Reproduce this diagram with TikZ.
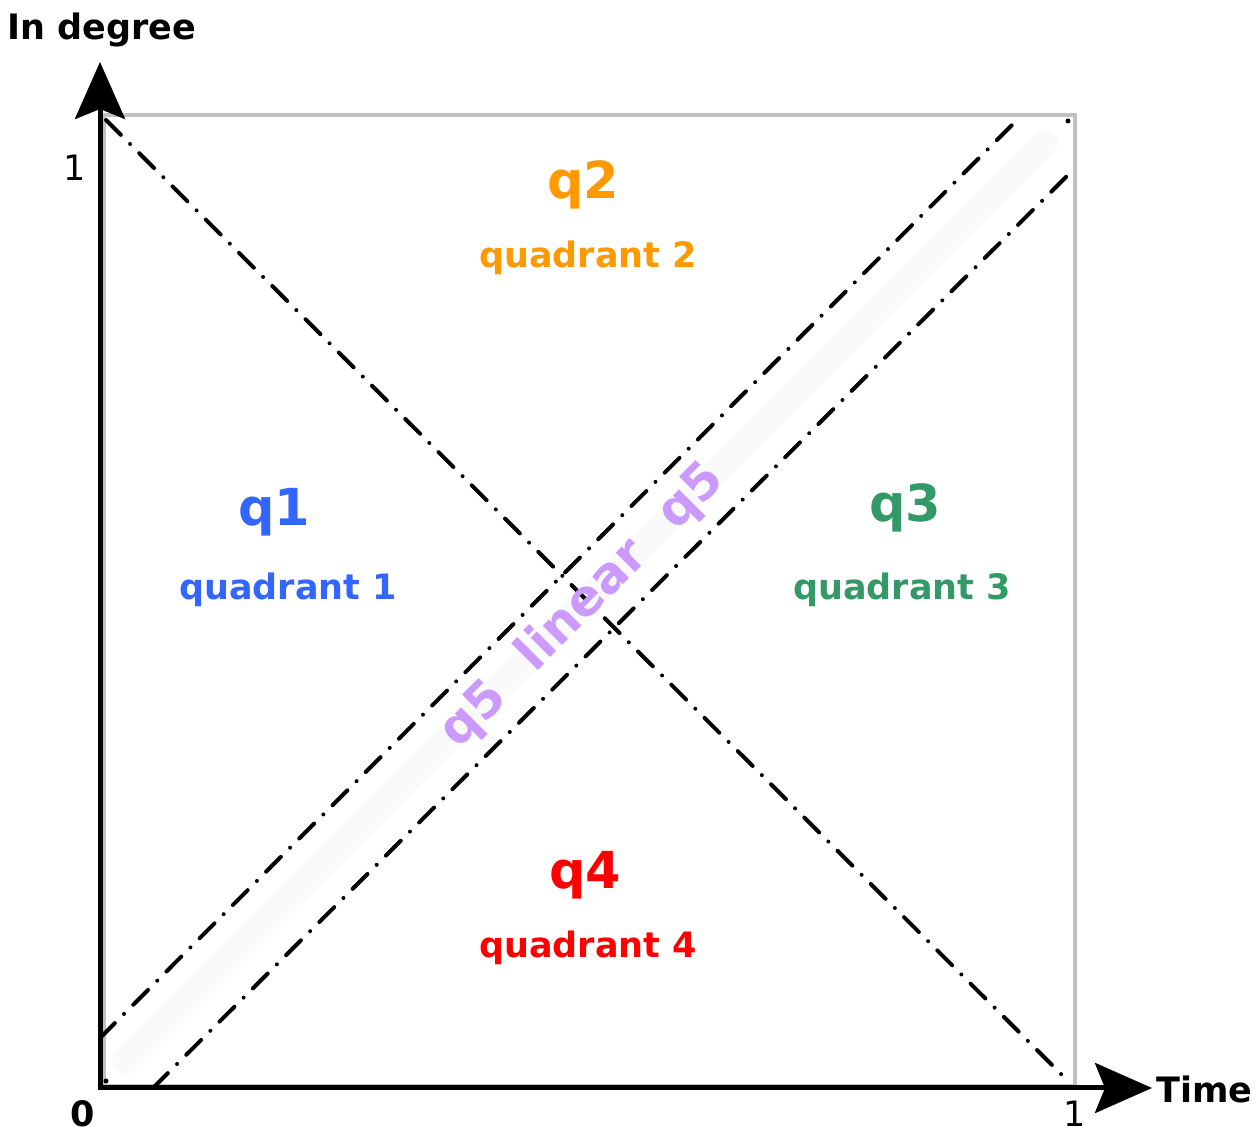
\documentclass[tikz,border=0pt]{standalone}
\usepackage{fontspec}
\setmainfont{DejaVu Sans}
\usetikzlibrary{arrows.meta}
\definecolor{qblue}{HTML}{3366FF}
\definecolor{qgreen}{HTML}{339966}
\definecolor{qorange}{HTML}{FF9900}
\definecolor{qred}{HTML}{FF0000}
\definecolor{qpurple}{HTML}{CC99FF}
\definecolor{boxgray}{HTML}{C0C0C0}
\definecolor{bandgray}{HTML}{FAFAFA}
\begin{document}
\begin{tikzpicture}[x=1pt,y=1pt,
  lbl/.style={inner sep=0pt,font=\fontsize{35}{40}\selectfont\bfseries},
  big/.style={inner sep=0pt,font=\fontsize{51}{60}\selectfont\bfseries},
  dashdot/.style={line width=4pt,line cap=round,dash pattern=on 21pt off 13pt on 0pt off 13pt},
  axis/.style={line width=5pt,-{Stealth[length=57pt,width=50pt,inset=10pt]}}]
\useasboundingbox (0,0) rectangle (1259,1133);
% coordinates
\coordinate (O) at (100,45);
\coordinate (ytip) at (100,1071);
\coordinate (xtip) at (1152,45);
\coordinate (BL) at (104,47);
\coordinate (TR) at (1075,1018);
\coordinate (dA) at (106,1013);
\coordinate (dB) at (1069,51);
\coordinate (uA) at (100,95);
\coordinate (uB) at (1019,1015);
\coordinate (lA) at (153,45);
\coordinate (lB) at (1073,963);
\coordinate (cA) at (106,52);
\coordinate (cB) at (1068,1012);
% light band
\draw[bandgray,line width=26pt,line cap=round] (125,72) -- (1045,990);
% gray box
\draw[boxgray,line width=4pt] (BL) rectangle (TR);
% dash-dot lines
\draw[dashdot] (dA) -- (dB);
\draw[dashdot] (uA) -- (uB);
\draw[dashdot] (lA) -- (lB);
\fill (cA) circle (2.5pt);
\fill (cB) circle (2.5pt);
% axes
\draw[axis] ([yshift=-2.5pt]O) -- (ytip);
\draw[axis] ([xshift=-2.5pt]O) -- (xtip);
% axis labels
\node[lbl,anchor=base west] (ylab) at (7,1093) {In degree};
\node[lbl,anchor=base west] (xlab) at (1156,30) {Time};
\node[lbl,font=\fontsize{35}{40}\selectfont] (y1) at (75,965) {1};
\node[lbl] (x0) at (83,19) {0};
\node[lbl,font=\fontsize{35}{40}\selectfont] (x1) at (1075,19) {1};
% quadrant labels
\node[big,text=qorange] (q2) at (583,948) {q2};
\node[lbl,text=qorange] (t2) at (588,875) {quadrant 2};
\node[big,text=qblue] (q1) at (274,621) {q1};
\node[lbl,text=qblue] (t1) at (288,543) {quadrant 1};
\node[big,text=qgreen] (q3) at (905,625) {q3};
\node[lbl,text=qgreen] (t3) at (902,543) {quadrant 3};
\node[big,text=qred] (q4) at (585,258) {q4};
\node[lbl,text=qred] (t4) at (588,185) {quadrant 4};
\node[big,text=qpurple,rotate=45,font=\fontsize{50}{58}\selectfont\bfseries] (q5) at (583,527) {q5\hspace{0.75em}linear\hspace{0.75em}q5};
\end{tikzpicture}
\end{document}
